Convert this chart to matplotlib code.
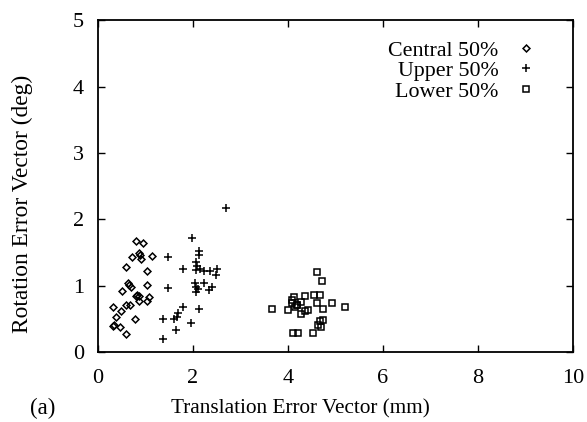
import matplotlib
matplotlib.use('Agg')
import matplotlib.pyplot as plt

# Central 50% (diamonds)
central_x = [0.80, 0.95, 0.72, 0.87, 0.89, 0.91, 1.14, 0.60, 1.03, 0.64, 0.66, 0.70,
             1.03, 0.52, 0.81, 0.83, 0.88, 1.08, 0.88, 1.04, 0.32, 0.34, 0.60, 0.69,
             0.50, 0.38, 0.79, 0.32, 0.47, 0.59]
central_y = [1.67, 1.64, 1.43, 1.49, 1.46, 1.40, 1.45, 1.28, 1.22, 1.04, 1.01, 0.98,
             1.02, 0.92, 0.85, 0.86, 0.85, 0.83, 0.78, 0.77, 0.68, 0.41, 0.72, 0.71,
             0.62, 0.53, 0.51, 0.40, 0.39, 0.28]

# Upper 50% (plus)
upper_x = [2.70, 1.99, 2.14, 2.13, 2.08, 1.47, 1.80, 2.08, 2.09, 2.15, 2.24, 2.36,
           2.51, 2.49, 2.05, 2.08, 2.12, 2.06, 2.24, 2.40, 2.35, 1.47, 1.79, 2.14,
           1.70, 1.68, 1.61, 1.38, 1.96, 1.65, 1.38]
upper_y = [2.18, 1.72, 1.53, 1.46, 1.36, 1.43, 1.26, 1.24, 1.30, 1.26, 1.22, 1.22,
           1.25, 1.17, 1.04, 0.98, 0.96, 0.91, 1.04, 0.99, 0.94, 0.97, 0.68, 0.65,
           0.59, 0.54, 0.51, 0.50, 0.44, 0.34, 0.21]

# Lower 50% (squares)
lower_x = [4.61, 4.72, 4.14, 4.08, 4.08, 4.19, 4.20, 4.29, 4.36, 4.56, 4.68, 4.61,
           4.74, 4.93, 5.21, 3.68, 4.00, 4.15, 4.28, 4.36, 4.42, 4.68, 4.75, 4.64,
           4.70, 4.54, 4.12, 4.22]
lower_y = [1.21, 1.08, 0.83, 0.75, 0.79, 0.71, 0.72, 0.76, 0.85, 0.86, 0.86, 0.75,
           0.65, 0.74, 0.69, 0.65, 0.64, 0.69, 0.58, 0.63, 0.64, 0.48, 0.49, 0.41,
           0.39, 0.30, 0.29, 0.30]

plt.rcParams['font.family'] = ['Liberation Serif', 'DejaVu Serif']

fig = plt.figure(figsize=(5.87, 4.22), dpi=100)
ax = fig.add_axes([0.1664, 0.1647, 0.8093, 0.7879])

ax.plot(central_x, central_y, 'D', ms=3.5, mfc='none', mec='black', mew=1.1,
        label='Central 50%')
ax.plot(upper_x, upper_y, '+', ms=6, mec='black', mew=1.1, label='Upper 50%')
ax.plot(lower_x, lower_y, 's', ms=4.5, mfc='none', mec='black', mew=1.1,
        label='Lower 50%')

ax.set_xlim(0, 10)
ax.set_ylim(0, 5)
ax.set_xticks([0, 2, 4, 6, 8, 10])
ax.set_yticks([0, 1, 2, 3, 4, 5])
ax.tick_params(direction='in', top=True, right=True, labelsize=16, length=5, width=1)
ax.tick_params(axis='x', pad=12)
ax.tick_params(axis='y', pad=10)
for s in ax.spines.values():
    s.set_linewidth(1.3)

ax.set_xlabel('Translation Error Vector (mm)', fontsize=15.3)
ax.xaxis.set_label_coords(0.426, -0.142)
ax.set_ylabel('Rotation Error Vector (deg)', fontsize=16.8)
ax.yaxis.set_label_coords(-0.136, 0.447)
fig.text(0.051, 0.018, '(a)', fontsize=16.5)

leg = ax.legend(loc='upper right', markerfirst=False, frameon=False, fontsize=15.8,
                handletextpad=0.5, labelspacing=0.0, borderaxespad=0.0,
                handlelength=1.5, bbox_to_anchor=(0.955, 0.965))
for t in leg.get_texts():
    t.set_ha('right')

fig.savefig('out.png', dpi=100)
